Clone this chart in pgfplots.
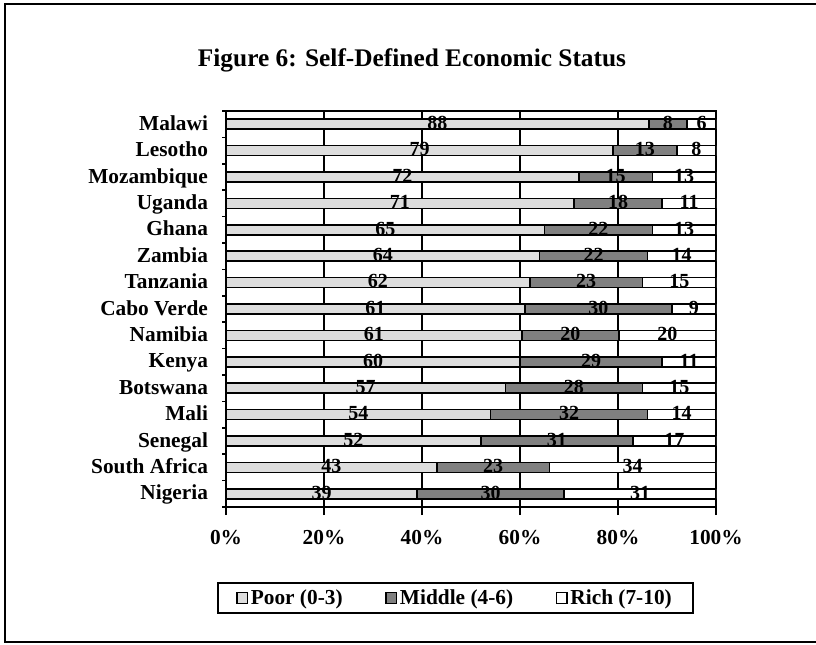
\documentclass[border=0pt]{standalone}
\usepackage{pgfplots}
\pgfplotsset{compat=1.18}
\usepackage{pgfplotstable}
\usepackage{fontspec}
\setmainfont{Liberation Serif}
\definecolor{poor}{RGB}{221,221,221}
\definecolor{middle}{RGB}{128,128,128}

% values normalised to 100% per row (p, m, r); labels are the reported values
\pgfplotstableread{
idx p      m      r      lp lm lr cp     cm     cr
0   39     30     31     39 30 31 19.5   54     84.5
1   43     23     34     43 23 34 21.5   54.5   83
2   52     31     17     52 31 17 26     67.5   91.5
3   54     32     14     54 32 14 27     70     93
4   57     28     15     57 28 15 28.5   71     92.5
5   60     29     11     60 29 11 30     74.5   94.5
6   60.396 19.802 19.802 61 20 20 30.198 70.297 90.099
7   61     30     9      61 30 9  30.5   76     95.5
8   62     23     15     62 23 15 31     73.5   92.5
9   64     22     14     64 22 14 32     75     93
10  65     22     13     65 22 13 32.5   76     93.5
11  71     18     11     71 18 11 35.5   80     94.5
12  72     15     13     72 15 13 36     79.5   93.5
13  79     13     8      79 13 8  39.5   85.5   96
14  86.275 7.843  5.882  88 8  6  43.137 90.196 97.059
}\data

\begin{document}
\begin{tikzpicture}[x=1pt,y=1pt]
\path[use as bounding box] (0,0) rectangle (612,483);
\draw[line width=1.5pt] (630,480.2) -- (4,480.2) -- (4,1.3) -- (630,1.3);
\node[font=\bfseries\fontsize{19}{23}\selectfont] at (309,438) {Figure 6: Self-Defined Economic Status};
\begin{axis}[
  at={(169.5pt,102.75pt)}, anchor=south west,
  width=367.5pt, height=297pt, scale only axis,
  xbar stacked, bar width=7.4pt,
  xmin=0, xmax=100, ymin=-0.5, ymax=14.5,
  axis line style={line width=1.5pt},
  xtick={0,20,40,60,80,100},
  xticklabels={0\%,20\%,40\%,60\%,80\%,100\%},
  ytick={0,...,14},
  yticklabels={Nigeria,South Africa,Senegal,Mali,Botswana,Kenya,Namibia,Cabo Verde,Tanzania,Zambia,Ghana,Uganda,Mozambique,Lesotho,Malawi},
  minor ytick={-0.5,0.5,1.5,2.5,3.5,4.5,5.5,6.5,7.5,8.5,9.5,10.5,11.5,12.5,13.5,14.5},
  tick align=outside, major tick length=6pt, minor tick length=3pt,
  every major y tick/.append style={draw=none},
  every tick/.append style={line width=1.3pt, black},
  xtick pos=bottom, ytick pos=left,
  xmajorgrids, major x grid style={black, line width=1.3pt},
  xticklabel style={font=\bfseries\fontsize{16}{19}\selectfont, yshift=-8pt},
  yticklabel style={font=\bfseries\fontsize{16}{19}\selectfont, anchor=base east, yshift=-4.5pt, xshift=-4pt},
  legend style={at={(0.468,-0.23)}, anchor=center, legend columns=3,
    draw=black, line width=1.5pt, font=\bfseries\fontsize{16}{19}\selectfont,
    inner xsep=14pt, inner ysep=3pt,
    /tikz/every even column/.append style={column sep=30pt}},
  legend image code/.code={\draw[#1, line width=1pt] (0pt,-4pt) rectangle (8pt,4pt);},
]
\addplot[fill=poor, draw=black, line width=1.2pt] table[x=p, y=idx]{\data};
\addplot[fill=middle, draw=black, line width=1.2pt] table[x=m, y=idx]{\data};
\addplot[fill=white, draw=black, line width=1.2pt] table[x=r, y=idx]{\data};
\legend{Poor (0-3), Middle (4-6), Rich (7-10)}
\end{axis}
\begin{axis}[
  at={(169.5pt,102.75pt)}, anchor=south west,
  width=367.5pt, height=297pt, scale only axis,
  xmin=0, xmax=100, ymin=-0.5, ymax=14.5, hide axis, clip=false,
  nodes near coords, point meta=explicit symbolic,
  every node near coord/.append style={anchor=base, text=black, inner sep=0pt,
    yshift=-4pt, font=\bfseries\fontsize{15}{18}\selectfont},
]
\addplot[draw=none] table[x=cp, y=idx, meta=lp]{\data};
\addplot[draw=none] table[x=cm, y=idx, meta=lm]{\data};
\addplot[draw=none] table[x=cr, y=idx, meta=lr]{\data};
\end{axis}
\end{tikzpicture}
\end{document}
